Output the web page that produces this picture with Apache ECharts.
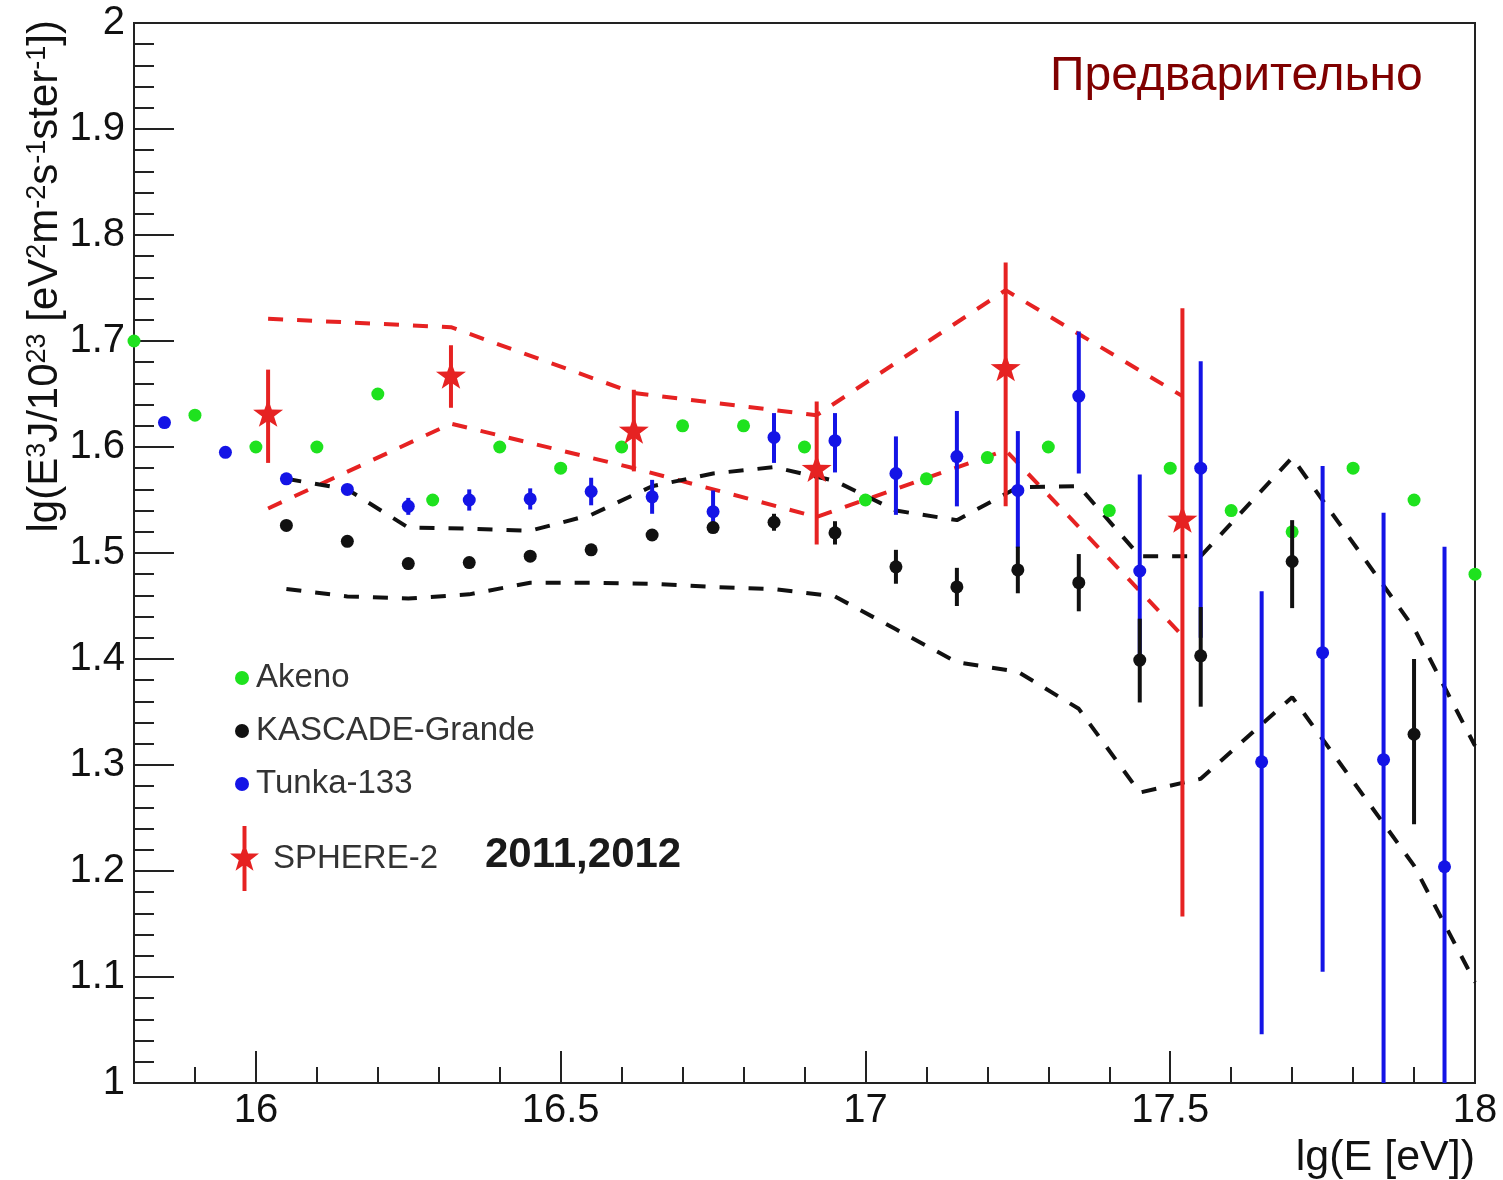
<!DOCTYPE html>
<html>
<head>
<meta charset="utf-8">
<script src="https://cdn.jsdelivr.net/npm/echarts@6/dist/echarts.min.js"></script>
<style>
  html, body { margin: 0; padding: 0; background: #ffffff; }
  #chart { width: 1503px; height: 1180px; }
</style>
</head>
<body>
<div id="chart"></div>
<script>
// Cosmic-ray all-particle spectrum, lg(E^3 J) versus lg(E)

// Akeno
const akenoX = [15.8, 15.9, 16.0, 16.1, 16.2, 16.29, 16.4, 16.5, 16.6, 16.7, 16.8, 16.9, 17.0, 17.1, 17.2, 17.3, 17.4, 17.5, 17.6, 17.7, 17.8, 17.9, 18.0];
const akenoY = [1.70, 1.63, 1.60, 1.60, 1.65, 1.55, 1.60, 1.58, 1.60, 1.62, 1.62, 1.60, 1.55, 1.57, 1.59, 1.60, 1.54, 1.58, 1.54, 1.52, 1.58, 1.55, 1.48];

// Tunka-133
const tunkaX = [15.85, 15.95, 16.05, 16.15, 16.25, 16.35, 16.45, 16.55, 16.65, 16.75, 16.85, 16.95, 17.05, 17.15, 17.25, 17.35, 17.45, 17.55, 17.65, 17.75, 17.85, 17.95];
const tunkaY = [1.623, 1.595, 1.570, 1.560, 1.544, 1.550, 1.551, 1.558, 1.553, 1.539, 1.609, 1.606, 1.575, 1.591, 1.559, 1.648, 1.483, 1.580, 1.303, 1.406, 1.305, 1.204];
const tunkaErrUp = [0, 0, 0, 0, 0.008, 0.010, 0.010, 0.013, 0.016, 0.020, 0.023, 0.026, 0.035, 0.043, 0.056, 0.061, 0.091, 0.101, 0.161, 0.176, 0.233, 0.302];
const tunkaErrDown = [0, 0, 0, 0, 0.008, 0.010, 0.010, 0.013, 0.016, 0.018, 0.024, 0.030, 0.039, 0.047, 0.054, 0.073, 0.080, 0.160, 0.257, 0.301, 0.400, 0.400];

// KASCADE-Grande
const kgX = [16.05, 16.15, 16.25, 16.35, 16.45, 16.55, 16.65, 16.75, 16.85, 16.95, 17.05, 17.15, 17.25, 17.35, 17.45, 17.55, 17.70, 17.90];
const kgY = [1.526, 1.511, 1.490, 1.491, 1.497, 1.503, 1.517, 1.524, 1.529, 1.519, 1.487, 1.468, 1.484, 1.472, 1.399, 1.403, 1.492, 1.329];
const kgErrUp = [0, 0, 0, 0, 0, 0, 0, 0.005, 0.008, 0.011, 0.016, 0.018, 0.022, 0.027, 0.039, 0.046, 0.039, 0.071];
const kgErrDown = [0, 0, 0, 0, 0, 0, 0, 0.005, 0.008, 0.011, 0.016, 0.018, 0.022, 0.027, 0.040, 0.048, 0.044, 0.085];

// KASCADE-Grande band (dashed black)
const kgBandX = [16.05, 16.15, 16.25, 16.35, 16.45, 16.55, 16.65, 16.75, 16.85, 16.95, 17.05, 17.15, 17.25, 17.35, 17.45, 17.55, 17.70, 17.90, 18.0];
const kgBandUpper = [1.570, 1.560, 1.524, 1.523, 1.521, 1.536, 1.563, 1.575, 1.581, 1.568, 1.540, 1.531, 1.562, 1.563, 1.497, 1.497, 1.590, 1.429, 1.318];
const kgBandLower = [1.466, 1.459, 1.457, 1.461, 1.472, 1.472, 1.471, 1.468, 1.466, 1.459, 1.428, 1.397, 1.388, 1.353, 1.274, 1.287, 1.364, 1.205, 1.095];

// SPHERE-2 (2011, 2012)
const sphereX = [16.02, 16.32, 16.62, 16.92, 17.23, 17.52];
const sphereY = [1.632, 1.668, 1.616, 1.580, 1.675, 1.532];
const sphereErrUp = [0.041, 0.028, 0.038, 0.063, 0.099, 0.199];
const sphereErrDown = [0.047, 0.031, 0.039, 0.072, 0.131, 0.375];
const sphereBandUpper = [1.721, 1.713, 1.651, 1.630, 1.748, 1.648];
const sphereBandLower = [1.542, 1.622, 1.580, 1.534, 1.597, 1.422];

// Axis ticks
const xMajorTicks = [16, 16.5, 17, 17.5, 18];
const xMinorTicks = [15.9, 16.1, 16.2, 16.3, 16.4, 16.6, 16.7, 16.8, 16.9, 17.1, 17.2, 17.3, 17.4, 17.6, 17.7, 17.8, 17.9];

const FONT = "'Liberation Sans', Arial, Helvetica, sans-serif";
const GREEN = '#1ee21e';
const BLUE = '#1414e6';
const BLACK = '#111111';
const RED = '#e62222';
const AXIS = '#222222';

const STAR = 'path://M50 0 L61.75 33.8 L97.55 34.55 L69 56.2 L79.4 90.45 L50 70 L20.6 90.45 L31 56.2 L2.45 34.55 L38.25 33.8 Z';
const STAR_BAR = 'path://M50 0 L61.75 33.8 L97.55 34.55 L69 56.2 L79.4 90.45 L50 70 L20.6 90.45 L31 56.2 L2.45 34.55 L38.25 33.8 Z M43.5 -56 L56.5 -56 L56.5 157 L43.5 157 Z';

function zip(xs, ys) { return xs.map((x, i) => [x, ys[i]]); }

function errorBars(xs, ys, up, down, color, z) {
  return {
    type: 'custom',
    z: z,
    silent: true,
    clip: true,
    encode: { x: 0, y: [1, 2] },
    data: xs.map((x, i) => [x, ys[i] - down[i], ys[i] + up[i]]),
    renderItem: function (params, api) {
      const lo = api.coord([api.value(0), api.value(1)]);
      const hi = api.coord([api.value(0), api.value(2)]);
      return {
        type: 'line',
        shape: { x1: lo[0], y1: lo[1], x2: hi[0], y2: hi[1] },
        style: { stroke: color, lineWidth: 4 }
      };
    }
  };
}

function dashed(xs, ys, color) {
  return {
    type: 'line',
    data: zip(xs, ys),
    symbol: 'none',
    silent: true,
    z: 2,
    lineStyle: { color: color, width: 4, type: [15, 14] }
  };
}

function points(name, xs, ys, color, symbol, size, z) {
  return {
    name: name, type: 'scatter', data: zip(xs, ys),
    symbol: symbol, symbolSize: size, symbolKeepAspect: true, clip: false, z: z,
    itemStyle: { color: color, opacity: 1 }
  };
}

const chart = echarts.init(document.getElementById('chart'), null, { renderer: 'canvas' });

chart.setOption({
  animation: false,
  backgroundColor: '#ffffff',
  grid: {
    left: 134, right: 28, top: 23, bottom: 97,
    containLabel: false,
    outerBoundsMode: 'none',
    show: true,
    borderColor: AXIS,
    borderWidth: 2,
    backgroundColor: 'transparent'
  },
  xAxis: [
    {
      type: 'value', min: 15.8, max: 18, position: 'bottom',
      axisLine: { show: true, lineStyle: { color: AXIS, width: 2 } },
      axisTick: { show: true, inside: true, length: 16, customValues: xMinorTicks, lineStyle: { color: AXIS, width: 2 } },
      axisLabel: { show: true, customValues: xMajorTicks, margin: 8, fontSize: 40, fontFamily: FONT, color: '#111' },
      splitLine: { show: false }
    },
    {
      type: 'value', min: 15.8, max: 18, position: 'bottom',
      axisLine: { show: false },
      axisTick: { show: true, inside: true, length: 32, customValues: xMajorTicks, lineStyle: { color: AXIS, width: 2 } },
      axisLabel: { show: false },
      splitLine: { show: false }
    }
  ],
  yAxis: {
    type: 'value', min: 1, max: 2, interval: 0.1,
    axisLine: { show: true, lineStyle: { color: AXIS, width: 2 } },
    axisTick: { show: true, inside: true, length: 40, lineStyle: { color: AXIS, width: 2 } },
    minorTick: { show: true, splitNumber: 5, length: 20, lineStyle: { color: AXIS, width: 2 } },
    axisLabel: { margin: 9, fontSize: 40, fontFamily: FONT, color: '#111' },
    splitLine: { show: false }
  },
  legend: [
    {
      data: ['Akeno', 'KASCADE-Grande', 'Tunka-133'],
      orient: 'vertical', left: 230, top: 653,
      icon: 'circle', itemWidth: 14, itemHeight: 14, itemGap: 13,
      selectedMode: false,
      itemStyle: { opacity: 1 },
      textStyle: { fontSize: 33, fontFamily: FONT, color: '#333', lineHeight: 40, padding: [0, 0, 0, 2] }
    },
    {
      data: [{ name: 'SPHERE-2', icon: STAR_BAR }],
      orient: 'vertical', left: 225, top: 821,
      itemWidth: 29, itemHeight: 65,
      selectedMode: false,
      itemStyle: { opacity: 1 },
      textStyle: { fontSize: 33, fontFamily: FONT, color: '#333', padding: [0, 0, 0, 9] }
    }
  ],
  graphic: [
    {
      type: 'text', x: 45, y: 20, rotation: Math.PI / 2,
      style: {
        text: 'lg(E{sup|3}J/10{sup|23} [eV{sup|2}m{sup|-2}s{sup|-1}ster{sup|-1}])',
        fontSize: 42, fontFamily: FONT, fill: '#111',
        align: 'right', verticalAlign: 'middle',
        rich: {
          sup: { fontSize: 27, fontFamily: FONT, fill: '#111', lineHeight: 27, verticalAlign: 'top' }
        }
      }
    },
    {
      type: 'text', x: 1475, y: 1158,
      style: { text: 'lg(E [eV])', fontSize: 43, fontFamily: FONT, fill: '#111', align: 'right', verticalAlign: 'middle' }
    },
    {
      type: 'text', x: 1050, y: 77,
      style: { text: 'Предварительно', fontSize: 48, fontFamily: FONT, fill: '#800000', align: 'left', verticalAlign: 'middle' }
    },
    {
      type: 'text', x: 485, y: 855,
      style: { text: '2011,2012', fontSize: 42, fontWeight: 'bold', fontFamily: FONT, fill: '#1a1a1a', align: 'left', verticalAlign: 'middle' }
    }
  ],
  series: [
    dashed(sphereX, sphereBandUpper, RED),
    dashed(sphereX, sphereBandLower, RED),
    dashed(kgBandX, kgBandUpper, BLACK),
    dashed(kgBandX, kgBandLower, BLACK),
    points('Akeno', akenoX, akenoY, GREEN, 'circle', 13, 3),
    errorBars(tunkaX, tunkaY, tunkaErrUp, tunkaErrDown, BLUE, 4),
    points('Tunka-133', tunkaX, tunkaY, BLUE, 'circle', 13, 4),
    errorBars(kgX, kgY, kgErrUp, kgErrDown, BLACK, 5),
    points('KASCADE-Grande', kgX, kgY, BLACK, 'circle', 13, 5),
    errorBars(sphereX, sphereY, sphereErrUp, sphereErrDown, RED, 6),
    points('SPHERE-2', sphereX, sphereY, RED, STAR, [30, 29], 6)
  ]
});
</script>
</body>
</html>
